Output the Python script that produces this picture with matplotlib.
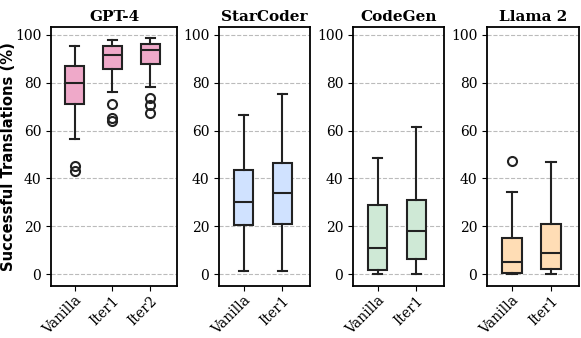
import matplotlib
matplotlib.use("Agg")
import matplotlib.pyplot as plt

models = ["GPT-4", "StarCoder", "CodeGen", "Llama 2"]
labels = {
    "GPT-4": ["Vanilla", "Iter1", "Iter2"],
    "StarCoder": ["Vanilla", "Iter1"],
    "CodeGen": ["Vanilla", "Iter1"],
    "Llama 2": ["Vanilla", "Iter1"],
}
# (whislo, q1, med, q3, whishi)
gpt4_stats = [(56.4, 71.0, 79.9, 86.9, 95.4), (76.0, 85.8, 91.5, 95.4, 97.8), (78.3, 88.0, 93.6, 96.4, 98.5)]
gpt4_fliers = [[45.3, 43.2], [71.3, 65.3, 63.8], [73.7, 70.6, 67.4]]
starcoder_stats = [(1.2, 20.3, 30.1, 43.3, 66.4), (1.2, 20.9, 34.0, 46.4, 75.3)]
starcoder_fliers = [[], []]
codegen_stats = [(0.0, 1.7, 10.9, 28.8, 48.5), (0.0, 6.1, 18.1, 30.9, 61.4)]
codegen_fliers = [[], []]
llama_stats = [(0.0, 0.6, 5.0, 14.9, 34.4), (0.0, 2.0, 8.8, 21.0, 46.9)]
llama_fliers = [[47.1], []]

all_stats = {"GPT-4": (gpt4_stats, gpt4_fliers), "StarCoder": (starcoder_stats, starcoder_fliers),
             "CodeGen": (codegen_stats, codegen_fliers), "Llama 2": (llama_stats, llama_fliers)}
colors = {"GPT-4": "#EFA9C9", "StarCoder": "#D0E2FF", "CodeGen": "#CFE9D6", "Llama 2": "#FFDDB5"}
yticks = [0, 20, 40, 60, 80, 100]

plt.rcParams["font.family"] = ["DejaVu Serif"]
fig = plt.figure(figsize=(5.81, 3.38), dpi=100)
W, H = 581, 338
axes_px = [(51, 177), (219, 310), (353, 444), (487, 579)]
top, bottom = 27, 286
for m, (x0, x1) in zip(models, axes_px):
    ax = fig.add_axes([x0 / W, 1 - bottom / H, (x1 - x0) / W, (bottom - top) / H])
    st, fl = all_stats[m]
    bxp = []
    for lab, s, f in zip(labels[m], st, fl):
        bxp.append(dict(label=lab, whislo=s[0], q1=s[1], med=s[2], q3=s[3], whishi=s[4], fliers=f))
    n = len(bxp)
    ax.bxp(bxp, positions=range(1, n + 1), widths=0.5, patch_artist=True,
           boxprops=dict(facecolor=colors[m], edgecolor="#222222", linewidth=1.5),
           medianprops=dict(color="#222222", linewidth=1.5),
           whiskerprops=dict(color="#222222", linewidth=1.5),
           capprops=dict(color="#222222", linewidth=1.5),
           flierprops=dict(marker="o", markerfacecolor="none", markeredgecolor="#222222",
                           markersize=6.5, markeredgewidth=1.5))
    ax.set_xlim(0.37, n + 0.71)
    ax.set_ylim(-5, 103.3)
    ax.set_yticks(yticks)
    ax.yaxis.grid(True, linestyle="--", color="#bbbbbb", linewidth=0.8)
    ax.set_axisbelow(True)
    ax.set_xticks(range(1, n + 1))
    ax.set_xticklabels(labels[m], rotation=45, ha="right", rotation_mode="anchor", fontsize=10)
    ax.tick_params(axis="x", pad=2)
    ax.tick_params(axis="y", labelsize=10)
    for sp in ax.spines.values():
        sp.set_linewidth(1.3)
    ax.set_title(m, fontsize=11, fontweight="bold", pad=4)
    if m == "GPT-4":
        ax.set_ylabel("Successful Translations (%)", fontsize=10.6, fontweight="bold",
                      family="DejaVu Sans")
        ax.yaxis.set_label_coords(-0.28, 0.5)

fig.savefig("out.png", dpi=100)
